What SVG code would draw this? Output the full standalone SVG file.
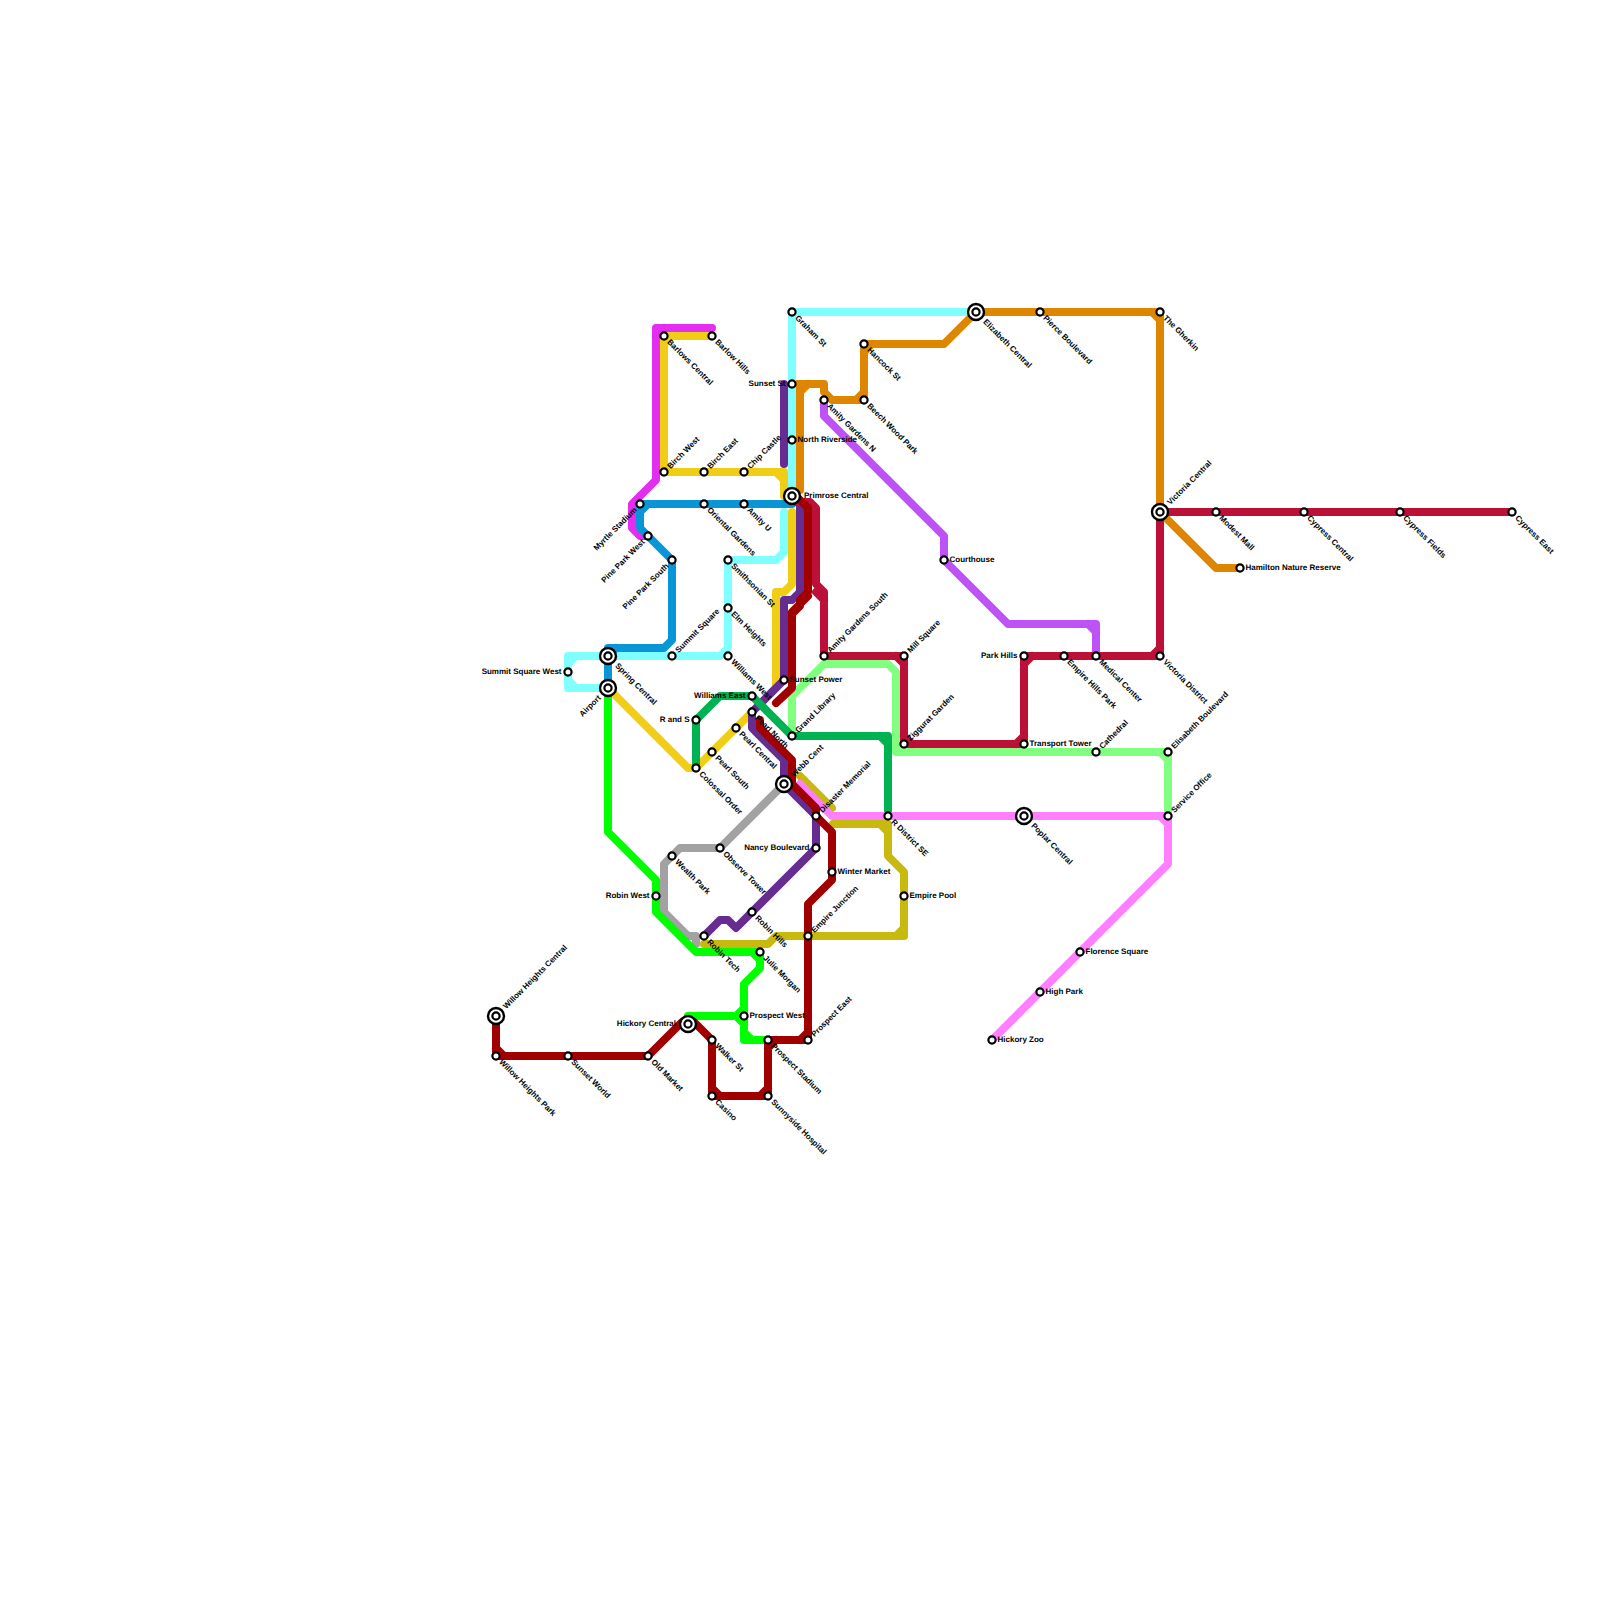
<svg xmlns="http://www.w3.org/2000/svg" width="1600" height="1600" viewBox="0 0 1600 1600">
<style>
.ln{fill:none;stroke-width:8;stroke-linecap:round;stroke-linejoin:round}
.s{fill:#fff;stroke:#000;stroke-width:2.2}
.o{fill:#fff;stroke:#000;stroke-width:2.4}
text{font-family:"Liberation Sans",Arial,sans-serif;font-size:8px;font-weight:bold;fill:#000;text-rendering:geometricPrecision}
.e{text-anchor:end}
</style>
<rect width="1600" height="1600" fill="#fff"/>
<g id="connectors">
<path id="line-gray" class="ln" stroke="#a2a2a2" d="M784,784L720,848H680L664,864V912L688,936H696V944"/>
<path id="line-lavender" class="ln" stroke="#bd53f6" d="M824,400V416L944,536V560L1008,624H1096V656M1088,624L1096,632"/>
<path id="line-orange" class="ln" stroke="#df8600" d="M792,384L800,392V490M800,392L808,384M792,384H824V392L832,400H864V344H944L976,312H1160V512L1216,568H1240M856,400L864,392M864,352L872,344M1152,312L1160,320"/>
<path id="line-magenta" class="ln" stroke="#e32df0" d="M712,328H656V480L632,504V528L640,536H648M664,328L656,336"/>
<path id="line-yellow" class="ln" stroke="#f0ce15" d="M712,336H664V472H784V496M672,336L664,344M664,464L672,472M776,472L784,480M792,512V584L784,592H776V688L768,696M608,688L688,768H696L752,712"/>
<path id="line-cyan" class="ln" stroke="#80ffff" d="M976,312H792V496M784,512V552L776,560H728V648L720,656H576L568,664V680L576,688H608M568,656H576M568,656V664M568,688V680M568,688H576"/>
<path id="line-blue" class="ln" stroke="#0896d7" d="M792,504H640V528L672,560V640L664,648H608V688M648,504L640,512M616,648L608,656"/>
<path id="line-purple-a" class="ln" stroke="#662c90" d="M784,384V464"/>
<path id="line-purple-b" class="ln" stroke="#662c90" d="M792,496L800,504V592L792,600H784V680L752,712V728L784,760V784L816,816V848L736,928L728,920H720L704,936"/>
<path id="line-lightgreen" class="ln" stroke="#80ff80" d="M792,736V696L824,664H888L896,672V752H1168V816M896,744L904,752M1160,752L1168,760"/>
<path id="line-emerald" class="ln" stroke="#00b251" d="M696,768V720L720,696H752L792,736H888V816M880,736L888,744"/>
<path id="line-green" class="ln" stroke="#00ff00" d="M608,688V832L656,880V912L696,952H760V968L744,984V1040H768M752,952L760,960M744,1032L752,1040M688,1024V1016H736L744,1008M736,1016L744,1024"/>
<path id="line-olive" class="ln" stroke="#c8b90f" d="M800,776L832,808M833,824H888V856L904,872V936H776L768,944H704M880,824L888,832M904,928L896,936"/>
<path id="line-pink" class="ln" stroke="#ff80ff" d="M800,784L832,816H1168V864L992,1040M1160,816L1168,824"/>
<path id="line-crimson" class="ln" stroke="#bd1038" d="M796,502H810L816,508V584L824,592V656H904V744H1024V656H1160V512H1512M816,592L824,600M896,656L904,664M904,736L912,744M1016,744L1024,736M1024,664L1032,656M1152,656L1160,648"/>
<path id="line-red" class="ln" stroke="#a00000" d="M796,496L808,508V592L800,600V606L792,614V688L776,703M808,596L792,612M760,720V728L792,760V784L816,808V816L832,832V880L808,904V1040H768V1096H712V1040L694,1022M682,1022L648,1056H496V1016M800,1040L808,1032M768,1048L776,1040M760,1096L768,1088M712,1088L720,1096M496,1048L504,1056"/>
</g>
<g id="stations">
<g id="st-graham-st"><circle class="s" cx="792" cy="312" r="3.6"/><text transform="translate(792,312) rotate(45)" x="6.5" y="2.6">Graham St</text></g>
<g id="st-sunset-st"><circle class="s" cx="792" cy="384" r="3.6"/><text class="e" x="785.5" y="386">Sunset St</text></g>
<g id="st-north-riverside"><circle class="s" cx="792" cy="440" r="3.6"/><text x="797.5" y="442">North Riverside</text></g>
<g id="st-primrose-central"><circle class="o" cx="792" cy="496" r="8"/><circle class="s" cx="792" cy="496" r="3.6"/><text x="804" y="498">Primrose Central</text></g>
<g id="st-barlows-central"><circle class="s" cx="664" cy="336" r="3.6"/><text transform="translate(664,336) rotate(45)" x="6.5" y="2.6">Barlows Central</text></g>
<g id="st-barlow-hills"><circle class="s" cx="712" cy="336" r="3.6"/><text transform="translate(712,336) rotate(45)" x="6.5" y="2.6">Barlow Hills</text></g>
<g id="st-birch-west"><circle class="s" cx="664" cy="472" r="3.6"/><text transform="translate(664,472) rotate(-45)" x="6.5" y="2.6">Birch West</text></g>
<g id="st-birch-east"><circle class="s" cx="704" cy="472" r="3.6"/><text transform="translate(704,472) rotate(-45)" x="6.5" y="2.6">Birch East</text></g>
<g id="st-chip-castle"><circle class="s" cx="744" cy="472" r="3.6"/><text transform="translate(744,472) rotate(-45)" x="6.5" y="2.6">Chip Castle</text></g>
<g id="st-myrtle-stadium"><circle class="s" cx="640" cy="504" r="3.6"/><text class="e" transform="translate(640,504) rotate(-45)" x="-6.5" y="2.6">Myrtle Stadium</text></g>
<g id="st-oriental-gardens"><circle class="s" cx="704" cy="504" r="3.6"/><text transform="translate(704,504) rotate(45)" x="6.5" y="2.6">Oriental Gardens</text></g>
<g id="st-amity-u"><circle class="s" cx="744" cy="504" r="3.6"/><text transform="translate(744,504) rotate(45)" x="6.5" y="2.6">Amity U</text></g>
<g id="st-pine-park-west"><circle class="s" cx="648" cy="536" r="3.6"/><text class="e" transform="translate(648,536) rotate(-45)" x="-6.5" y="2.6">Pine Park West</text></g>
<g id="st-pine-park-south"><circle class="s" cx="672" cy="560" r="3.6"/><text class="e" transform="translate(672,560) rotate(-45)" x="-6.5" y="2.6">Pine Park South</text></g>
<g id="st-smithsonian-st"><circle class="s" cx="728" cy="560" r="3.6"/><text transform="translate(728,560) rotate(45)" x="6.5" y="2.6">Smithsonian St</text></g>
<g id="st-elm-heights"><circle class="s" cx="728" cy="608" r="3.6"/><text transform="translate(728,608) rotate(45)" x="6.5" y="2.6">Elm Heights</text></g>
<g id="st-williams-west"><circle class="s" cx="728" cy="656" r="3.6"/><text transform="translate(728,656) rotate(45)" x="6.5" y="2.6">Williams West</text></g>
<g id="st-summit-square"><circle class="s" cx="672" cy="656" r="3.6"/><text transform="translate(672,656) rotate(-45)" x="6.5" y="2.6">Summit Square</text></g>
<g id="st-spring-central"><circle class="o" cx="608" cy="656" r="8"/><circle class="s" cx="608" cy="656" r="3.6"/><text transform="translate(608,656) rotate(45)" x="12" y="2.6">Spring Central</text></g>
<g id="st-airport"><circle class="o" cx="608" cy="688" r="8"/><circle class="s" cx="608" cy="688" r="3.6"/><text class="e" transform="translate(608,688) rotate(-45)" x="-12" y="2.6">Airport</text></g>
<g id="st-summit-square-west"><circle class="s" cx="568" cy="672" r="3.6"/><text class="e" x="561.5" y="674">Summit Square West</text></g>
<g id="st-sunset-power"><circle class="s" cx="784" cy="680" r="3.6"/><text x="789.5" y="682">Sunset Power</text></g>
<g id="st-williams-east"><circle class="s" cx="752" cy="696" r="3.6"/><text class="e" x="745.5" y="698">Williams East</text></g>
<g id="st-pearl-north"><circle class="s" cx="752" cy="712" r="3.6"/><text transform="translate(752,712) rotate(45)" x="6.5" y="2.6">Pearl North</text></g>
<g id="st-pearl-central"><circle class="s" cx="736" cy="728" r="3.6"/><text transform="translate(736,728) rotate(45)" x="6.5" y="2.6">Pearl Central</text></g>
<g id="st-pearl-south"><circle class="s" cx="712" cy="752" r="3.6"/><text transform="translate(712,752) rotate(45)" x="6.5" y="2.6">Pearl South</text></g>
<g id="st-colossal-order"><circle class="s" cx="696" cy="768" r="3.6"/><text transform="translate(696,768) rotate(45)" x="6.5" y="2.6">Colossal Order</text></g>
<g id="st-r-and-s"><circle class="s" cx="696" cy="720" r="3.6"/><text class="e" x="689.5" y="722">R and S</text></g>
<g id="st-grand-library"><circle class="s" cx="792" cy="736" r="3.6"/><text transform="translate(792,736) rotate(-45)" x="6.5" y="2.6">Grand Library</text></g>
<g id="st-webb-cent"><circle class="o" cx="784" cy="784" r="8"/><circle class="s" cx="784" cy="784" r="3.6"/><text transform="translate(784,784) rotate(-45)" x="12" y="2.6">Webb Cent</text></g>
<g id="st-disaster-memorial"><circle class="s" cx="816" cy="816" r="3.6"/><text transform="translate(816,816) rotate(-45)" x="6.5" y="2.6">Disaster Memorial</text></g>
<g id="st-nancy-boulevard"><circle class="s" cx="816" cy="848" r="3.6"/><text class="e" x="809.5" y="850">Nancy Boulevard</text></g>
<g id="st-winter-market"><circle class="s" cx="832" cy="872" r="3.6"/><text x="837.5" y="874">Winter Market</text></g>
<g id="st-observe-tower"><circle class="s" cx="720" cy="848" r="3.6"/><text transform="translate(720,848) rotate(45)" x="6.5" y="2.6">Observe Tower</text></g>
<g id="st-wealth-park"><circle class="s" cx="672" cy="856" r="3.6"/><text transform="translate(672,856) rotate(45)" x="6.5" y="2.6">Wealth Park</text></g>
<g id="st-robin-west"><circle class="s" cx="656" cy="896" r="3.6"/><text class="e" x="649.5" y="898">Robin West</text></g>
<g id="st-robin-hills"><circle class="s" cx="752" cy="912" r="3.6"/><text transform="translate(752,912) rotate(45)" x="6.5" y="2.6">Robin Hills</text></g>
<g id="st-robin-tech"><circle class="s" cx="704" cy="936" r="3.6"/><text transform="translate(704,936) rotate(45)" x="6.5" y="2.6">Robin Tech</text></g>
<g id="st-julie-morgan"><circle class="s" cx="760" cy="952" r="3.6"/><text transform="translate(760,952) rotate(45)" x="6.5" y="2.6">Julie Morgan</text></g>
<g id="st-empire-junction"><circle class="s" cx="808" cy="936" r="3.6"/><text transform="translate(808,936) rotate(-45)" x="6.5" y="2.6">Empire Junction</text></g>
<g id="st-prospect-west"><circle class="s" cx="744" cy="1016" r="3.6"/><text x="749.5" y="1018">Prospect West</text></g>
<g id="st-prospect-east"><circle class="s" cx="808" cy="1040" r="3.6"/><text transform="translate(808,1040) rotate(-45)" x="6.5" y="2.6">Prospect East</text></g>
<g id="st-prospect-stadium"><circle class="s" cx="768" cy="1040" r="3.6"/><text transform="translate(768,1040) rotate(45)" x="6.5" y="2.6">Prospect Stadium</text></g>
<g id="st-walker-st"><circle class="s" cx="712" cy="1040" r="3.6"/><text transform="translate(712,1040) rotate(45)" x="6.5" y="2.6">Walker St</text></g>
<g id="st-casino"><circle class="s" cx="712" cy="1096" r="3.6"/><text transform="translate(712,1096) rotate(45)" x="6.5" y="2.6">Casino</text></g>
<g id="st-sunnyside-hospital"><circle class="s" cx="768" cy="1096" r="3.6"/><text transform="translate(768,1096) rotate(45)" x="6.5" y="2.6">Sunnyside Hospital</text></g>
<g id="st-hickory-central"><circle class="o" cx="688" cy="1024" r="8"/><circle class="s" cx="688" cy="1024" r="3.6"/><text class="e" x="676" y="1026">Hickory Central</text></g>
<g id="st-old-market"><circle class="s" cx="648" cy="1056" r="3.6"/><text transform="translate(648,1056) rotate(45)" x="6.5" y="2.6">Old Market</text></g>
<g id="st-sunset-world"><circle class="s" cx="568" cy="1056" r="3.6"/><text transform="translate(568,1056) rotate(45)" x="6.5" y="2.6">Sunset World</text></g>
<g id="st-willow-heights-park"><circle class="s" cx="496" cy="1056" r="3.6"/><text transform="translate(496,1056) rotate(45)" x="6.5" y="2.6">Willow Heights Park</text></g>
<g id="st-willow-heights-central"><circle class="o" cx="496" cy="1016" r="8"/><circle class="s" cx="496" cy="1016" r="3.6"/><text transform="translate(496,1016) rotate(-45)" x="12" y="2.6">Willow Heights Central</text></g>
<g id="st-r-district-se"><circle class="s" cx="888" cy="816" r="3.6"/><text transform="translate(888,816) rotate(45)" x="6.5" y="2.6">R District SE</text></g>
<g id="st-empire-pool"><circle class="s" cx="904" cy="896" r="3.6"/><text x="909.5" y="898">Empire Pool</text></g>
<g id="st-poplar-central"><circle class="o" cx="1024" cy="816" r="8"/><circle class="s" cx="1024" cy="816" r="3.6"/><text transform="translate(1024,816) rotate(45)" x="12" y="2.6">Poplar Central</text></g>
<g id="st-ziggurat-garden"><circle class="s" cx="904" cy="744" r="3.6"/><text transform="translate(904,744) rotate(-45)" x="6.5" y="2.6">Ziggurat Garden</text></g>
<g id="st-mill-square"><circle class="s" cx="904" cy="656" r="3.6"/><text transform="translate(904,656) rotate(-45)" x="6.5" y="2.6">Mill Square</text></g>
<g id="st-amity-gardens-south"><circle class="s" cx="824" cy="656" r="3.6"/><text transform="translate(824,656) rotate(-45)" x="6.5" y="2.6">Amity Gardens South</text></g>
<g id="st-amity-gardens-n"><circle class="s" cx="824" cy="400" r="3.6"/><text transform="translate(824,400) rotate(45)" x="6.5" y="2.6">Amity Gardens N</text></g>
<g id="st-hancock-st"><circle class="s" cx="864" cy="344" r="3.6"/><text transform="translate(864,344) rotate(45)" x="6.5" y="2.6">Hancock St</text></g>
<g id="st-beech-wood-park"><circle class="s" cx="864" cy="400" r="3.6"/><text transform="translate(864,400) rotate(45)" x="6.5" y="2.6">Beech Wood Park</text></g>
<g id="st-elizabeth-central"><circle class="o" cx="976" cy="312" r="8"/><circle class="s" cx="976" cy="312" r="3.6"/><text transform="translate(976,312) rotate(45)" x="12" y="2.6">Elizabeth Central</text></g>
<g id="st-pierce-boulevard"><circle class="s" cx="1040" cy="312" r="3.6"/><text transform="translate(1040,312) rotate(45)" x="6.5" y="2.6">Pierce Boulevard</text></g>
<g id="st-the-gherkin"><circle class="s" cx="1160" cy="312" r="3.6"/><text transform="translate(1160,312) rotate(45)" x="6.5" y="2.6">The Gherkin</text></g>
<g id="st-victoria-central"><circle class="o" cx="1160" cy="512" r="8"/><circle class="s" cx="1160" cy="512" r="3.6"/><text transform="translate(1160,512) rotate(-45)" x="12" y="2.6">Victoria Central</text></g>
<g id="st-modest-mall"><circle class="s" cx="1216" cy="512" r="3.6"/><text transform="translate(1216,512) rotate(45)" x="6.5" y="2.6">Modest Mall</text></g>
<g id="st-cypress-central"><circle class="s" cx="1304" cy="512" r="3.6"/><text transform="translate(1304,512) rotate(45)" x="6.5" y="2.6">Cypress Central</text></g>
<g id="st-cypress-fields"><circle class="s" cx="1400" cy="512" r="3.6"/><text transform="translate(1400,512) rotate(45)" x="6.5" y="2.6">Cypress Fields</text></g>
<g id="st-cypress-east"><circle class="s" cx="1512" cy="512" r="3.6"/><text transform="translate(1512,512) rotate(45)" x="6.5" y="2.6">Cypress East</text></g>
<g id="st-hamilton-nature-reserve"><circle class="s" cx="1240" cy="568" r="3.6"/><text x="1245.5" y="570">Hamilton Nature Reserve</text></g>
<g id="st-victoria-district"><circle class="s" cx="1160" cy="656" r="3.6"/><text transform="translate(1160,656) rotate(45)" x="6.5" y="2.6">Victoria District</text></g>
<g id="st-medical-center"><circle class="s" cx="1096" cy="656" r="3.6"/><text transform="translate(1096,656) rotate(45)" x="6.5" y="2.6">Medical Center</text></g>
<g id="st-empire-hills-park"><circle class="s" cx="1064" cy="656" r="3.6"/><text transform="translate(1064,656) rotate(45)" x="6.5" y="2.6">Empire Hills Park</text></g>
<g id="st-park-hills"><circle class="s" cx="1024" cy="656" r="3.6"/><text class="e" x="1017.5" y="658">Park Hills</text></g>
<g id="st-transport-tower"><circle class="s" cx="1024" cy="744" r="3.6"/><text x="1029.5" y="746">Transport Tower</text></g>
<g id="st-cathedral"><circle class="s" cx="1096" cy="752" r="3.6"/><text transform="translate(1096,752) rotate(-45)" x="6.5" y="2.6">Cathedral</text></g>
<g id="st-elisabeth-boulevard"><circle class="s" cx="1168" cy="752" r="3.6"/><text transform="translate(1168,752) rotate(-45)" x="6.5" y="2.6">Elisabeth Boulevard</text></g>
<g id="st-service-office"><circle class="s" cx="1168" cy="816" r="3.6"/><text transform="translate(1168,816) rotate(-45)" x="6.5" y="2.6">Service Office</text></g>
<g id="st-courthouse"><circle class="s" cx="944" cy="560" r="3.6"/><text x="949.5" y="562">Courthouse</text></g>
<g id="st-florence-square"><circle class="s" cx="1080" cy="952" r="3.6"/><text x="1085.5" y="954">Florence Square</text></g>
<g id="st-high-park"><circle class="s" cx="1040" cy="992" r="3.6"/><text x="1045.5" y="994">High Park</text></g>
<g id="st-hickory-zoo"><circle class="s" cx="992" cy="1040" r="3.6"/><text x="997.5" y="1042">Hickory Zoo</text></g>
</g>
</svg>
